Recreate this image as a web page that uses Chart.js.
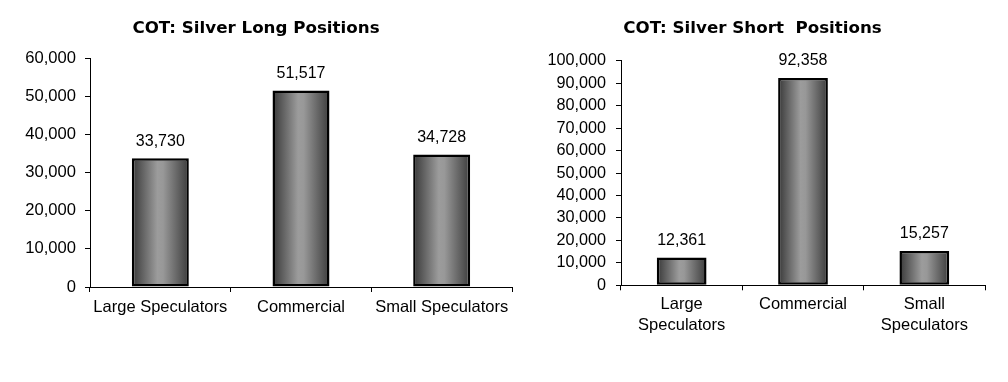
<!DOCTYPE html>
<html>
<head>
<meta charset="utf-8">
<script src="https://cdn.jsdelivr.net/npm/chart.js@4.4.1/dist/chart.umd.min.js"></script>
<style>
  html, body { margin: 0; padding: 0; background: #fff; width: 1008px; height: 382px; overflow: hidden; }
  .box { position: absolute; top: 0; height: 382px; }
  #leftBox { left: 0; width: 530px; }
  #rightBox { left: 520px; width: 488px; }
</style>
</head>
<body>
<div class="box" id="leftBox"><canvas id="longChart" width="530" height="382"></canvas></div>
<div class="box" id="rightBox"><canvas id="shortChart" width="488" height="382"></canvas></div>
<script>
// ---- Data ----
const longCategories = ["Large Speculators", "Commercial", "Small Speculators"];
const longValues = [33730, 51517, 34728];
const longTitle = "COT: Silver Long Positions";

const shortCategories = [["Large", "Speculators"], "Commercial", ["Small", "Speculators"]];
const shortValues = [12361, 92358, 15257];
const shortTitle = "COT: Silver Short  Positions";

const longAxisMax = 60000;
const shortAxisMax = 100000;
const axisStep = 10000;

// ---- Styling helpers ----
const FONT = "'Liberation Sans', Arial, sans-serif";
const TITLE_FONT = "'DejaVu Sans', Verdana, sans-serif";
const fmt = v => Number(v).toLocaleString('en-US');

function barGradient(ctx) {
  const chart = ctx.chart;
  const xs = chart.scales && chart.scales.x;
  if (!chart.chartArea || !xs) return '#808080';
  const ds = chart.data.datasets[ctx.datasetIndex];
  const n = chart.data.labels.length;
  const center = xs.getPixelForValue(ctx.dataIndex);
  const half = (xs.width / n) * ds.barPercentage / 2;
  const g = chart.ctx.createLinearGradient(center - half, 0, center + half, 0);
  g.addColorStop(0, '#383838');
  g.addColorStop(0.45, '#9c9c9c');
  g.addColorStop(0.55, '#989898');
  g.addColorStop(1, '#3c3c3c');
  return g;
}

const valueLabels = {
  id: 'valueLabels',
  afterDatasetsDraw(chart) {
    const ctx = chart.ctx;
    ctx.save();
    ctx.font = '16px ' + FONT;
    ctx.fillStyle = '#000';
    ctx.textAlign = 'center';
    ctx.textBaseline = 'middle';
    chart.getDatasetMeta(0).data.forEach((bar, i) => {
      ctx.fillText(fmt(chart.data.datasets[0].data[i]), bar.x, bar.y - 17);
    });
    ctx.restore();
  }
};

function makeChart(id, labels, values, title, max, cfg) {
  return new Chart(document.getElementById(id), {
    type: 'bar',
    data: {
      labels: labels,
      datasets: [{
        data: values,
        backgroundColor: barGradient,
        borderColor: '#000',
        borderWidth: 2.5,
        borderSkipped: false,
        barPercentage: cfg.barPct,
        categoryPercentage: 1
      }]
    },
    options: {
      responsive: false,
      animation: false,
      devicePixelRatio: 1,
      layout: { padding: { left: 0, right: cfg.padRight, top: 0, bottom: 0 } },
      plugins: {
        legend: { display: false },
        tooltip: { enabled: false },
        title: {
          display: true,
          text: title,
          color: '#000',
          font: { family: TITLE_FONT, size: 16.7, weight: 'bold', lineHeight: 1.2 },
          padding: { top: 19, bottom: cfg.titleBottom }
        }
      },
      scales: {
        x: {
          grid: { display: true, drawOnChartArea: false, drawTicks: true, tickLength: 5, color: '#000', offset: true },
          border: { display: true, color: '#000', width: 1 },
          ticks: { color: '#000', font: { family: FONT, size: 16.5, lineHeight: 1.25 }, padding: cfg.xPad, maxRotation: 0, autoSkip: false },
          afterFit(scale) { scale.height = cfg.xHeight; }
        },
        y: {
          min: 0,
          max: max,
          grid: { display: true, drawOnChartArea: false, drawTicks: true, tickLength: 5, color: '#000' },
          border: { display: true, color: '#000', width: 1 },
          ticks: { stepSize: axisStep, color: '#000', font: { family: FONT, size: cfg.ySize }, padding: cfg.yPad, callback: v => fmt(v) },
          afterFit(scale) { scale.width = cfg.yWidth; }
        }
      }
    },
    plugins: [valueLabels]
  });
}

makeChart('longChart', longCategories, longValues, longTitle, longAxisMax,
  { barPct: 0.405, padRight: 18, titleBottom: 19.1, xHeight: 95, yWidth: 90, xPad: 5, yPad: 9, ySize: 16.6 });
makeChart('shortChart', shortCategories, shortValues, shortTitle, shortAxisMax,
  { barPct: 0.41, padRight: 23, titleBottom: 21.8, xHeight: 96.7, yWidth: 101, xPad: 4, yPad: 10, ySize: 16.2 });
</script>
</body>
</html>
